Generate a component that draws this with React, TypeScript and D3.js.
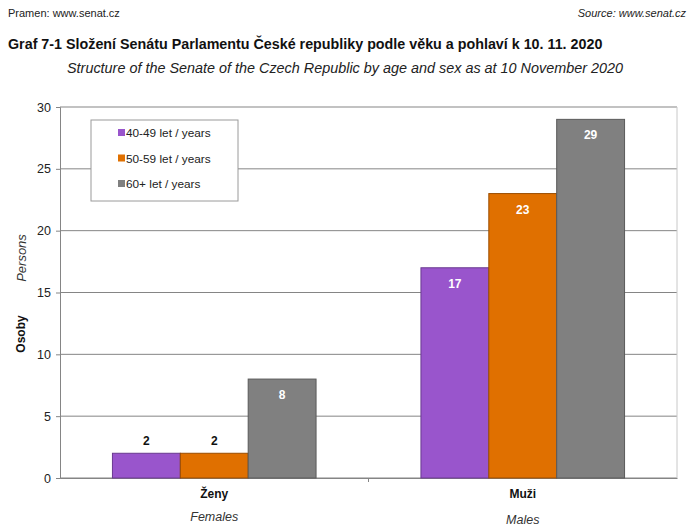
import React, { useEffect, useRef } from 'react';
import * as d3 from 'd3';

const groups = ['Ženy', 'Muži'];
const groupsEn = ['Females', 'Males'];
const series = ['40-49 let / years', '50-59 let / years', '60+ let / years'];
const colors = ['#9955cc', '#e07000', '#808080'];
const strokes = ['#6a3a90', '#9a4d00', '#5a5a5a'];
const values = [
  [2, 2, 8],
  [17, 23, 29],
];
const yTicks = [0, 5, 10, 15, 20, 25, 30];

export default function App() {
  const ref = useRef<SVGSVGElement>(null);

  useEffect(() => {
    const width = 694;
    const height = 527;
    const margin = { top: 107, bottom: 49, left: 60, right: 17 };
    const font = 'Liberation Sans, Arial, sans-serif';

    const svg = d3.select(ref.current);
    svg.selectAll('*').remove();

    // headers
    svg.append('text').attr('x', 8).attr('y', 17).attr('font-size', 11).attr('fill', '#222')
      .attr('font-family', font).text('Pramen: www.senat.cz');
    svg.append('text').attr('x', 686).attr('y', 17).attr('font-size', 11).attr('fill', '#222')
      .attr('font-family', font).attr('font-style', 'italic').attr('text-anchor', 'end')
      .text('Source: www.senat.cz');
    svg.append('text').attr('x', 8).attr('y', 49).attr('font-size', 14.3).attr('font-weight', 'bold')
      .attr('fill', '#111').attr('font-family', font)
      .text('Graf 7-1 Složení Senátu Parlamentu České republiky podle věku a pohlaví k 10. 11. 2020');
    svg.append('text').attr('x', 345).attr('y', 73).attr('font-size', 14.4).attr('font-style', 'italic')
      .attr('fill', '#222').attr('font-family', font).attr('text-anchor', 'middle')
      .text('Structure of the Senate of the Czech Republic by age and sex as at 10 November 2020');

    const x0 = d3.scaleBand().domain(groups).range([margin.left, width - margin.right]);
    const x1 = d3.scaleBand().domain(series)
      .range([x0.bandwidth() * 0.17, x0.bandwidth() * 0.83]).paddingInner(0).paddingOuter(0);
    const y = d3.scaleLinear().domain([0, 30]).range([height - margin.bottom, margin.top]);

    // gridlines
    svg.append('g').selectAll('line').data(yTicks).enter().append('line')
      .attr('x1', margin.left).attr('x2', width - margin.right)
      .attr('y1', (d) => y(d)).attr('y2', (d) => y(d))
      .attr('stroke', '#858585').attr('stroke-width', 1);
    svg.append('line').attr('x1', width - margin.right).attr('x2', width - margin.right)
      .attr('y1', y(30)).attr('y2', y(0)).attr('stroke', '#c8c8c8');

    // y axis
    const yAxis = svg.append('g').attr('transform', `translate(${margin.left},0)`)
      .call(d3.axisLeft(y).tickValues(yTicks).tickSize(4).tickPadding(5));
    yAxis.select('.domain').attr('stroke', '#858585');
    yAxis.selectAll('line').attr('stroke', '#858585');
    yAxis.selectAll('text').attr('font-size', 12.5).attr('font-family', font).attr('fill', '#222');

    // x axis
    const xAxis = svg.append('g').attr('transform', `translate(0,${y(0)})`)
      .call(d3.axisBottom(x0).tickSize(0).tickFormat(() => ''));
    xAxis.select('.domain').attr('stroke', '#858585');
    svg.append('line').attr('x1', x0('Muži') as number).attr('x2', x0('Muži') as number)
      .attr('y1', y(0)).attr('y2', y(0) + 4).attr('stroke', '#858585');

    // bars
    const g = svg.append('g').selectAll('g').data(groups).enter().append('g')
      .attr('transform', (d) => `translate(${x0(d)},0)`);
    g.selectAll('rect').data((d, i) => values[i].map((v, j) => ({ v, j }))).enter().append('rect')
      .attr('x', (d) => x1(series[d.j]) as number)
      .attr('y', (d) => y(d.v))
      .attr('width', x1.bandwidth())
      .attr('height', (d) => y(0) - y(d.v))
      .attr('fill', (d) => colors[d.j])
      .attr('stroke', (d) => strokes[d.j])
      .attr('stroke-width', 1);
    g.selectAll('text').data((d, i) => values[i].map((v, j) => ({ v, j }))).enter().append('text')
      .attr('x', (d) => (x1(series[d.j]) as number) + x1.bandwidth() / 2)
      .attr('y', (d) => (d.v < 5 ? y(d.v) - 8 : y(d.v) + 20))
      .attr('text-anchor', 'middle').attr('font-size', 12).attr('font-weight', 'bold')
      .attr('font-family', font)
      .attr('fill', (d) => (d.v < 5 ? '#111' : '#fff'))
      .text((d) => d.v);

    // category labels
    groups.forEach((c, i) => {
      const cx = (x0(c) as number) + x0.bandwidth() / 2;
      svg.append('text').attr('x', cx).attr('y', y(0) + 20).attr('text-anchor', 'middle')
        .attr('font-size', 12).attr('font-weight', 'bold').attr('font-family', font).attr('fill', '#111')
        .text(c);
      svg.append('text').attr('x', cx).attr('y', y(0) + 43 + i * 3).attr('text-anchor', 'middle')
        .attr('font-size', 12.5).attr('font-style', 'italic').attr('font-family', font).attr('fill', '#333')
        .text(groupsEn[i]);
    });

    // axis titles
    svg.append('text').attr('transform', `translate(25,334) rotate(-90)`).attr('text-anchor', 'middle')
      .attr('font-size', 12).attr('font-weight', 'bold').attr('font-family', font).attr('fill', '#111')
      .text('Osoby');
    svg.append('text').attr('transform', `translate(26,258) rotate(-90)`).attr('text-anchor', 'middle')
      .attr('font-size', 13).attr('font-style', 'italic').attr('font-family', font).attr('fill', '#333')
      .text('Persons');

    // legend
    const lg = svg.append('g');
    lg.append('rect').attr('x', 91).attr('y', 120).attr('width', 147).attr('height', 81)
      .attr('fill', '#fff').attr('stroke', '#9a9a9a');
    series.forEach((s, i) => {
      const ly = 133 + i * 25.5;
      lg.append('rect').attr('x', 118).attr('y', ly - 4).attr('width', 7).attr('height', 7)
        .attr('fill', colors[i]);
      lg.append('text').attr('x', 126).attr('y', ly + 4).attr('font-size', 11.8)
        .attr('font-family', font).attr('fill', '#222').text(s);
    });
  }, []);

  return (
    <svg ref={ref} width={694} height={527}
      style={{ position: 'absolute', left: 0, top: 0, background: '#fff' }} />
  );
}
